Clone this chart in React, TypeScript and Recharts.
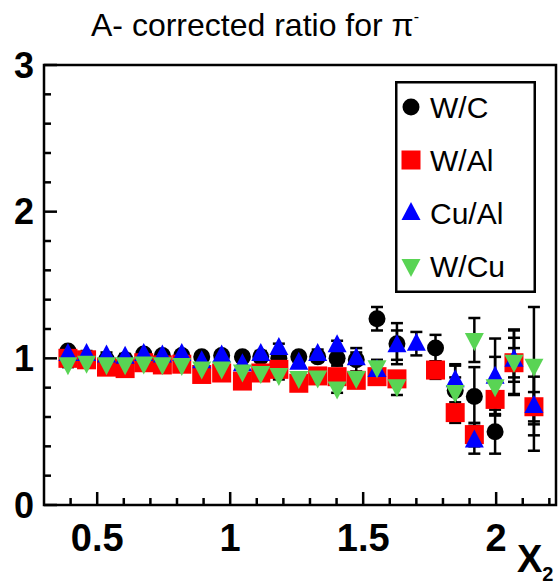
// A-corrected ratio for pi- : four target-ratio series vs x2, ROOT-style frame.

import { ScatterChart, Scatter, XAxis, YAxis, ErrorBar, Legend, ReferenceArea } from 'recharts';

const X2 = [
  0.39, 0.46, 0.535, 0.605, 0.675, 0.745, 0.818, 0.893, 0.968, 1.046, 1.115, 1.183, 1.258,
  1.329, 1.402, 1.474, 1.552, 1.627, 1.7, 1.772, 1.846, 1.918, 1.996, 2.067, 2.142,
];

const W_C = [
  1.05, 1.0, 0.99, 0.99, 1.03, 1.02, 1.02, 1.01, 1.02, 1.01, 1.01, 1.0, 1.01,
  1.01, 1.0, 0.99, 1.27, 1.1, null, 1.07, 0.78, 0.74, 0.5, 0.97, 0.67,
];
const W_C_ERR = [
  0.02, 0.02, 0.02, 0.02, 0.02, 0.02, 0.02, 0.02, 0.02, 0.02, 0.03, 0.03, 0.03,
  0.03, 0.05, 0.08, 0.08, 0.14, 0, 0.09, 0.18, 0.2, 0.15, 0.22, 0.3,
];

const W_AL = [
  1.0, 0.99, 0.94, 0.93, 0.97, 0.955, 0.96, 0.89, 0.9, 0.845, 0.9, 0.925, 0.83,
  0.88, 0.875, 0.85, 0.875, 0.86, null, 0.92, 0.63, 0.48, 0.72, 0.97, 0.67,
];
const W_AL_ERR = [
  0.02, 0.02, 0.02, 0.02, 0.02, 0.02, 0.02, 0.02, 0.02, 0.02, 0.02, 0.03, 0.03,
  0.03, 0.03, 0.04, 0.04, 0.05, 0, 0.06, 0.07, 0.08, 0.1, 0.1, 0.1,
];

const CU_AL = [
  1.03, 1.03, 1.02, 1.01, 1.03, 1.02, 1.03, 0.98, 1.02, 0.96, 1.03, 1.07, 0.97,
  1.03, 1.09, 1.0, 0.92, 1.09, 1.1, null, 0.85, 0.44, 0.875, 0.99, 0.675,
];
const CU_AL_ERR = [
  0.02, 0.02, 0.02, 0.02, 0.02, 0.02, 0.02, 0.02, 0.02, 0.02, 0.02, 0.03, 0.03,
  0.03, 0.03, 0.04, 0.05, 0.1, 0.08, 0, 0.1, 0.09, 0.26, 0.15, 0.2,
];

const W_CU = [
  0.96, 0.97, 0.96, 0.96, 0.965, 0.96, 0.955, 0.93, 0.93, 0.91, 0.9, 0.886, 0.866,
  0.87, 0.795, 0.866, 0.94, 0.81, null, null, 0.77, 1.125, 0.81, 0.977, 0.95,
];
const W_CU_ERR = [
  0.02, 0.02, 0.02, 0.02, 0.02, 0.02, 0.02, 0.02, 0.02, 0.02, 0.02, 0.03, 0.03,
  0.03, 0.03, 0.04, 0.05, 0.06, 0, 0, 0.1, 0.15, 0.2, 0.22, 0.4,
];

const X_TICKS = [0.4, 0.5, 0.6, 0.7, 0.8, 0.9, 1, 1.1, 1.2, 1.3, 1.4, 1.5, 1.6, 1.7, 1.8, 1.9, 2, 2.1, 2.2];
const X_LABELS = ['0.5', '1', '1.5', '2'];
const Y_TICKS = [0, 0.2, 0.4, 0.6, 0.8, 1, 1.2, 1.4, 1.6, 1.8, 2, 2.2, 2.4, 2.6, 2.8, 3];
const Y_LABELS = ['0', '1', '2', '3'];

const FONT = '"Liberation Sans", Arial, Helvetica, sans-serif';
const GREEN = '#59d454';

const toPoints = (ys: (number | null)[], errs: number[]) =>
  X2.map((x, i) => ({ x, y: ys[i], err: errs[i] })).filter((d) => d.y != null);

// marker shapes, roughly ROOT styles 20/21/22/23
const drawCircle = (cx: number, cy: number, fill: string) => <circle cx={cx} cy={cy} r={8.5} fill={fill} />;
const drawSquare = (cx: number, cy: number, fill: string) => (
  <rect x={cx - 9.5} y={cy - 9.5} width={19} height={19} fill={fill} />
);
const drawUp = (cx: number, cy: number, fill: string) => (
  <polygon points={`${cx},${cy - 11} ${cx - 9.5},${cy + 7} ${cx + 9.5},${cy + 7}`} fill={fill} />
);
const drawDown = (cx: number, cy: number, fill: string) => (
  <polygon points={`${cx},${cy + 11} ${cx - 9.5},${cy - 7} ${cx + 9.5},${cy - 7}`} fill={fill} />
);

const SHAPES: Record<string, (cx: number, cy: number, fill: string) => JSX.Element> = {
  'W/C': drawCircle,
  'W/Al': drawSquare,
  'Cu/Al': drawUp,
  'W/Cu': drawDown,
};

const series = [
  { name: 'W/C', color: '#000000', data: toPoints(W_C, W_C_ERR) },
  { name: 'W/Al', color: '#ff0000', data: toPoints(W_AL, W_AL_ERR) },
  { name: 'Cu/Al', color: '#0000ff', data: toPoints(CU_AL, CU_AL_ERR) },
  { name: 'W/Cu', color: GREEN, data: toPoints(W_CU, W_CU_ERR) },
];

const XTick = (props: any) => {
  const { x, y, payload } = props;
  const label = X_LABELS.find((l) => Math.abs(Number(l) - payload.value) < 1e-6);
  return (
    <g>
      <line x1={x} y1={y} x2={x} y2={y - (label ? 13 : 7)} stroke="#000" strokeWidth={2.5} />
      {label && (
        <text x={x} y={y + 46} textAnchor="middle" fontSize={38} fontWeight="bold" fontFamily={FONT} fill="#000">
          {label}
        </text>
      )}
    </g>
  );
};

const YTick = (props: any) => {
  const { x, y, payload } = props;
  const label = Y_LABELS.find((l) => Math.abs(Number(l) - payload.value) < 1e-6);
  return (
    <g>
      <line x1={x} y1={y} x2={x + (label ? 13 : 7)} y2={y} stroke="#000" strokeWidth={2.5} />
      {label && (
        <text x={x - 10} y={y} textAnchor="end" dominantBaseline="central" fontSize={36} fontWeight="bold" fontFamily={FONT} fill="#000">
          {label}
        </text>
      )}
    </g>
  );
};

// legend keeps the drawing order of the series, not recharts' payload order
const LegendBox = () => (
  <svg width={141} height={212} style={{ display: 'block' }}>
    <rect x={1.25} y={1.25} width={138.5} height={209.5} fill="#fff" stroke="#000" strokeWidth={2.5} />
    {series.map((s, i) => {
      const cy = 26 + i * 53;
      return (
        <g key={s.name}>
          {SHAPES[s.name](16, cy, s.color)}
          <text x={35} y={cy} dominantBaseline="central" fontSize={30} fontFamily={FONT} fill="#000">
            {s.name}
          </text>
        </g>
      );
    })}
  </svg>
);

export default function App() {
  return (
    <div style={{ position: 'absolute', left: 0, top: 0, width: 559, height: 587, background: '#fff', fontFamily: FONT }}>
      <ScatterChart width={559} height={587} margin={{ top: 65, right: 3, bottom: 0, left: 0 }}>
        <XAxis
          type="number"
          dataKey="x"
          domain={[0.3, 2.225]}
          ticks={X_TICKS}
          interval={0}
          tickSize={0}
          tickMargin={0}
          tick={<XTick />}
          height={82}
          axisLine={false}
          allowDataOverflow
        />
        <YAxis
          type="number"
          dataKey="y"
          domain={[0, 3]}
          ticks={Y_TICKS}
          interval={0}
          tickSize={0}
          tickMargin={0}
          tick={<YTick />}
          width={44}
          axisLine={false}
          allowDataOverflow
        />
        <ReferenceArea x1={0.3} x2={2.225} y1={0} y2={3} fill="none" stroke="#000" strokeWidth={2.5} ifOverflow="visible" />
        {series.map((s) => (
          <Scatter
            key={s.name}
            name={s.name}
            data={s.data}
            fill={s.color}
            isAnimationActive={false}
            shape={(p: any) => SHAPES[s.name](p.cx, p.cy, s.color)}
          >
            <ErrorBar dataKey="err" direction="y" width={6} stroke="#000" strokeWidth={2.5} />
          </Scatter>
        ))}
        <Legend
          layout="vertical"
          align="center"
          verticalAlign="middle"
          content={<LegendBox />}
          wrapperStyle={{ left: 395, top: 81, width: 141, height: 212 }}
        />
        <text x={91} y={36} fontSize={32} fontFamily={FONT} fill="#000">
          A- corrected ratio for π<tspan fontSize={16} dy={-14}>-</tspan>
        </text>
        <text x={517} y={572} fontSize={38} fontWeight="bold" fontFamily={FONT} fill="#000">
          X<tspan fontSize={20} dy={9}>2</tspan>
        </text>
      </ScatterChart>
    </div>
  );
}
